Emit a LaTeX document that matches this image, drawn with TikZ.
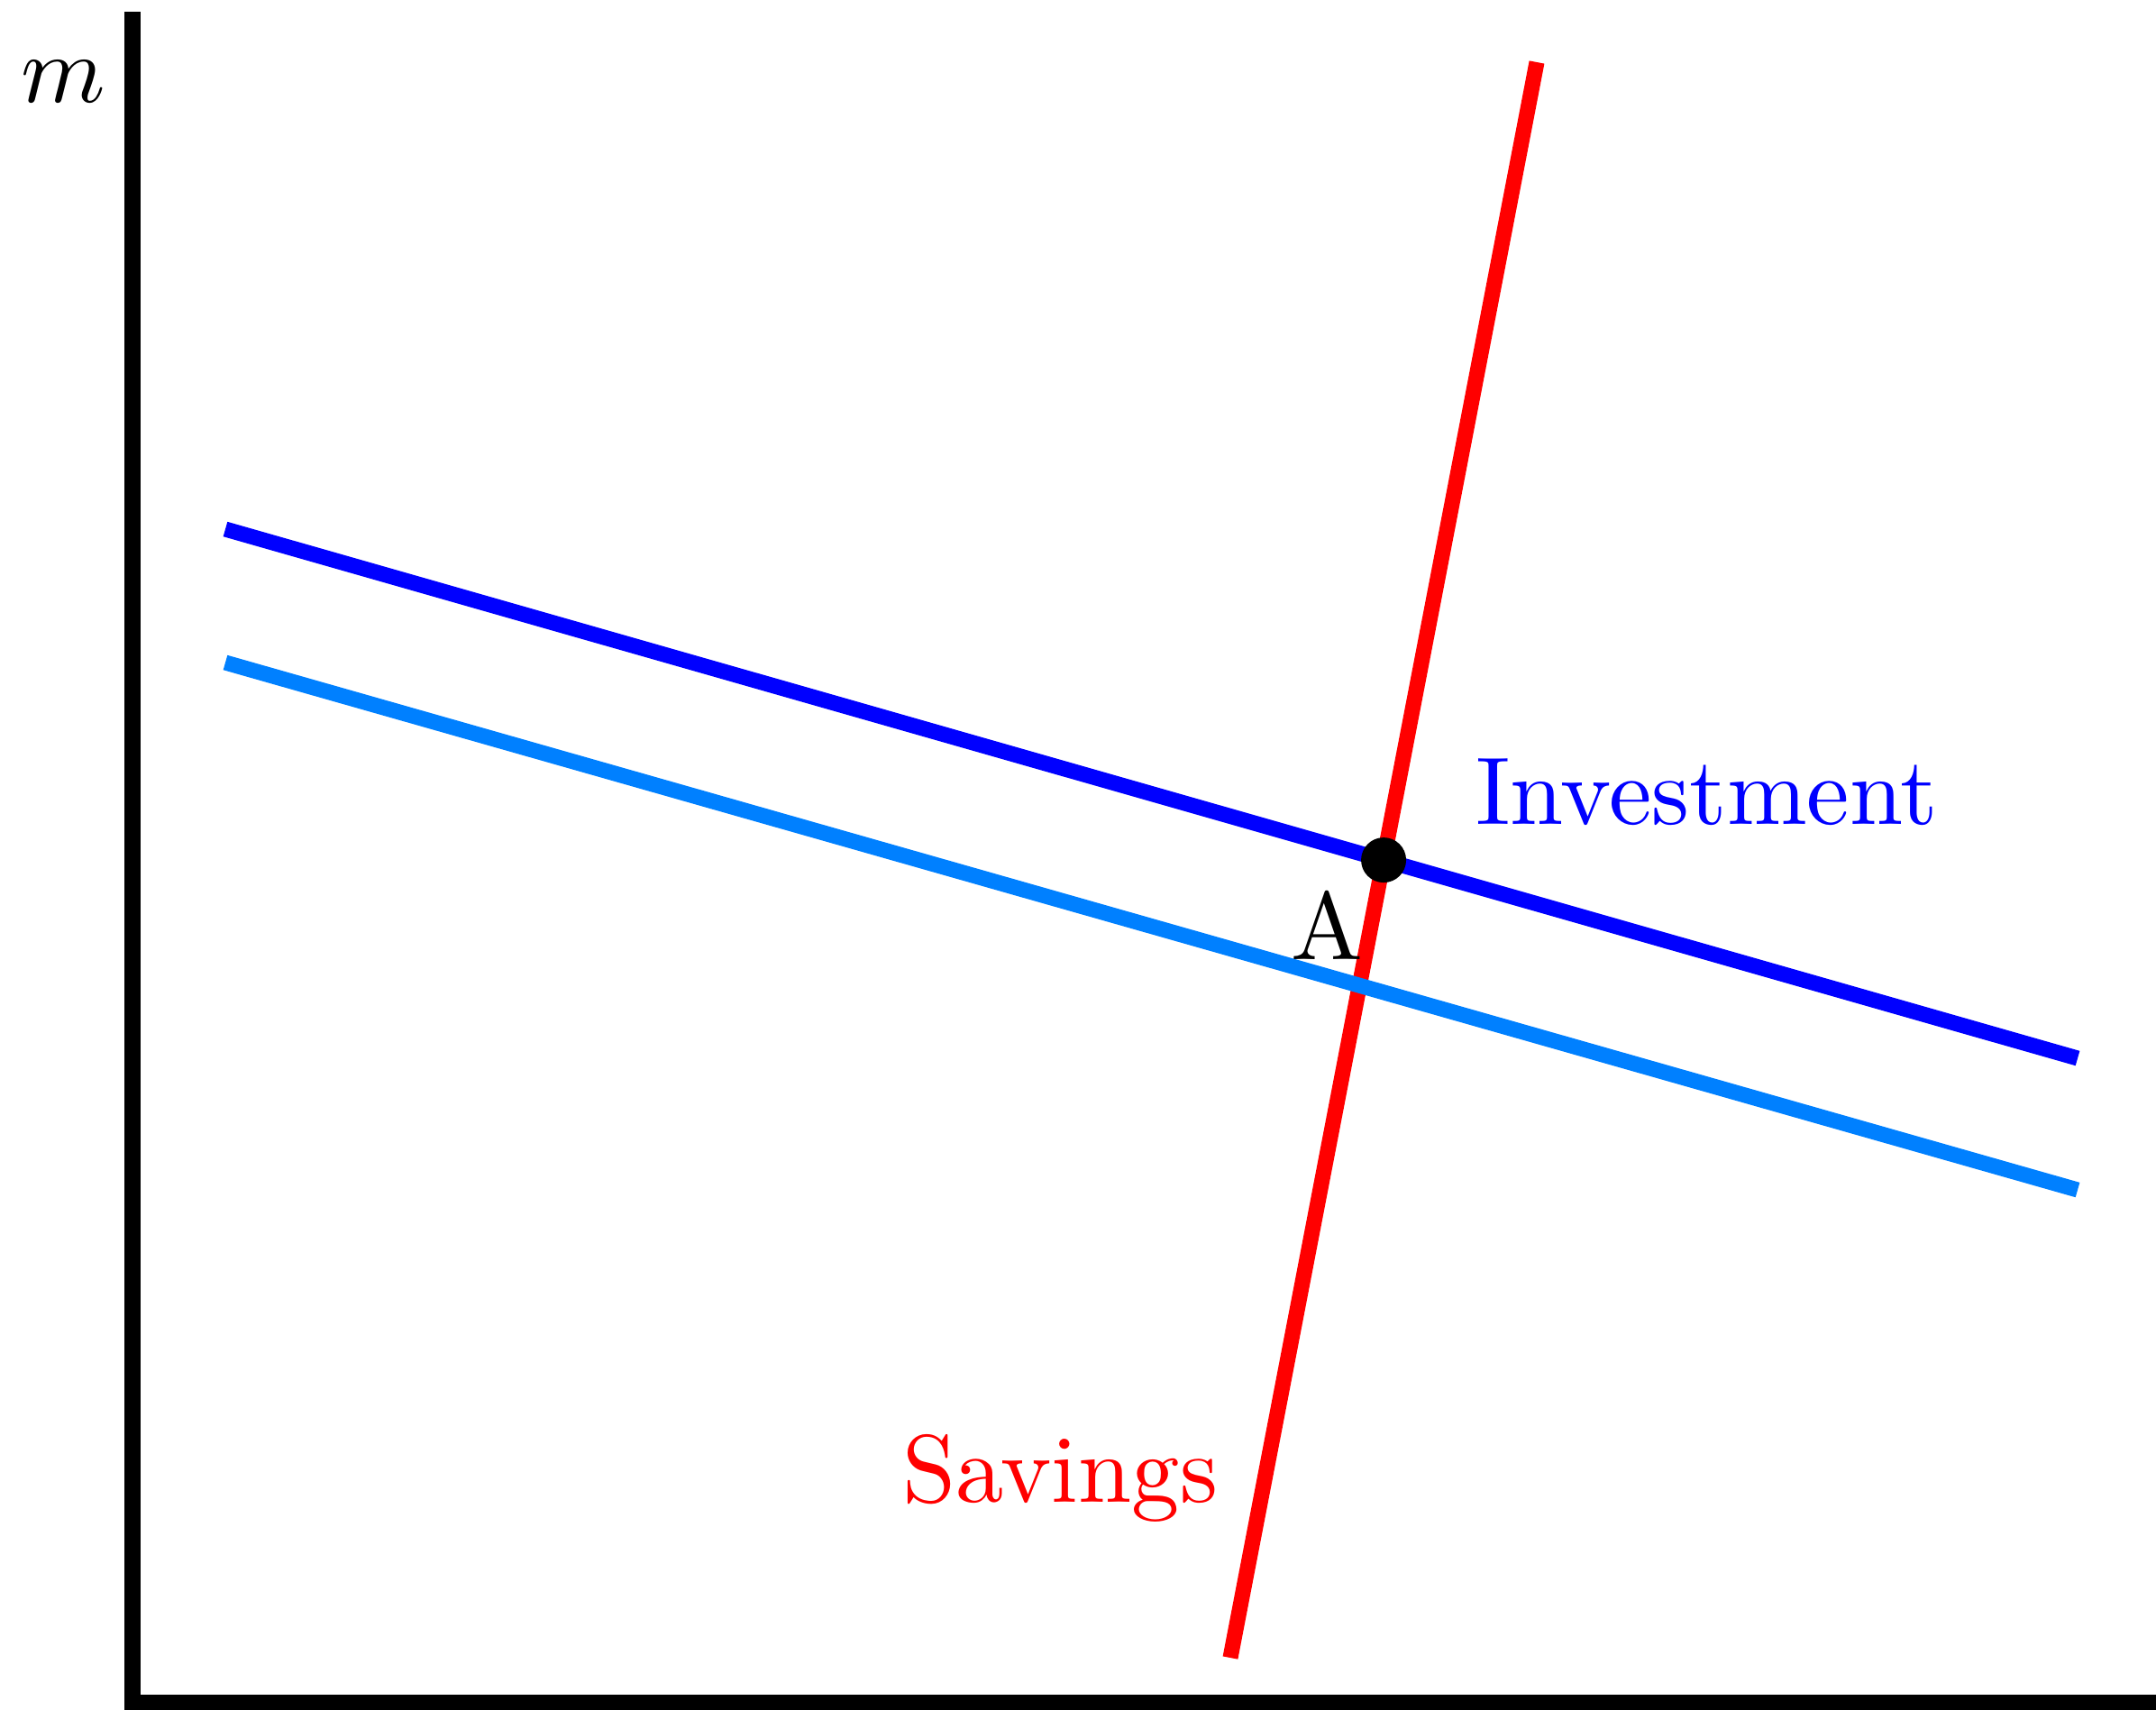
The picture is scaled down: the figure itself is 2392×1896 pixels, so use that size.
\documentclass[tikz,border=0pt]{standalone}
\begin{document}
\begin{tikzpicture}[x=0.01cm,y=-0.01cm,
  axisline/.style={line width=5.1pt,black},
  curveline/.style={line width=4.85pt},
  lbl/.style={inner sep=0pt,anchor=base west,font=\fontsize{10}{12}\selectfont,scale=3.03}]
\definecolor{lightblue}{RGB}{0,128,255}
\useasboundingbox (0,0) rectangle (2392,1896);
% axes
\coordinate (ytop) at (147,13);
\coordinate (origin) at (147,1889);
\coordinate (xend) at (2400,1889);
\draw[axisline,line join=miter] (ytop) -- (origin) -- (xend);
% curves
\coordinate (s1) at (1365,1839);
\coordinate (s2) at (1705,69);
\coordinate (i1) at (250,587);
\coordinate (i2) at (2305,1174);
\coordinate (j1) at (250,735);
\coordinate (j2) at (2305,1320);
\draw[curveline,red] (s1) -- (s2);
\draw[curveline,lightblue] (j1) -- (j2);
\draw[curveline,blue] (i1) -- (i2);
\coordinate (A) at (intersection of s1--s2 and i1--i2);
\fill[black] (A) circle (25);
% labels
\node[lbl] (mlabel) at (21,113) {$m$};
\node[lbl,anchor=base] (Alabel) at (1472,1064) {A};
\node[lbl,blue] (inv) at (1635,914) {Investment};
\node[lbl,red] (sav) at (999,1666) {Savings};
\end{tikzpicture}
\end{document}
